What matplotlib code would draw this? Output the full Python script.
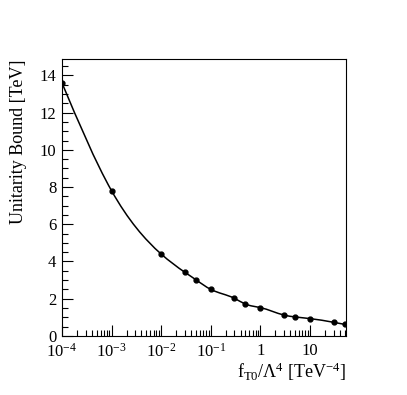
#! /usr/bin/env python3
import matplotlib
matplotlib.use("Agg")
import matplotlib.pyplot as plt
from matplotlib.path import Path
from matplotlib.patches import PathPatch
from matplotlib.ticker import FixedLocator, MultipleLocator, LogLocator, NullFormatter
import numpy as np

plt.rcParams["font.family"] = ["Liberation Serif", "DejaVu Serif"]
plt.rcParams["mathtext.fontset"] = "custom"
plt.rcParams["mathtext.rm"] = "Liberation Serif"
plt.rcParams["mathtext.it"] = "Liberation Serif:italic"

# coupling values f_T0/Lambda^4 [TeV^-4] and unitarity bound [TeV]
coupling = [1e-4, 1e-3, 1e-2, 0.03, 0.05, 0.1, 0.3, 0.5, 1, 3, 5, 10, 30, 50]
bound = [13.6, 7.8, 4.4, 3.42, 3.02, 2.5, 2.02, 1.71, 1.52, 1.12, 1.02, 0.93, 0.73, 0.62]

x_ticks = [1e-4, 1e-3, 1e-2, 1e-1, 1, 10]
x_ticklabels = [r"$10^{\mathrm{-4}}$", r"$10^{\mathrm{-3}}$", r"$10^{\mathrm{-2}}$",
                r"$10^{\mathrm{-1}}$", "1", "10"]

fig = plt.figure(figsize=(4.07, 3.95), dpi=100)
ax = fig.add_axes([0.1523, 0.1496, 0.6967, 0.7003])

ax.set_xscale("log")
ax.set_xlim(1e-4, 52)
ax.set_ylim(0, 14.87)

# smooth curve through the points: natural cubic spline in log-x,
# each segment handed to matplotlib as a cubic Bezier
lx = np.log10(coupling)
y = np.array(bound)
n = len(lx)
h = np.diff(lx)
A = np.zeros((n, n))
r = np.zeros(n)
A[0, 0] = A[-1, -1] = 1
for i in range(1, n - 1):
    A[i, i - 1] = h[i - 1]
    A[i, i] = 2 * (h[i - 1] + h[i])
    A[i, i + 1] = h[i]
    r[i] = 6 * ((y[i + 1] - y[i]) / h[i] - (y[i] - y[i - 1]) / h[i - 1])
M = np.linalg.solve(A, r)
d = np.empty(n)
d[:-1] = (y[1:] - y[:-1]) / h - h * (2 * M[:-1] + M[1:]) / 6
d[-1] = (y[-1] - y[-2]) / h[-1] + h[-1] * (M[-2] + 2 * M[-1]) / 6

verts = [(lx[0], y[0])]
codes = [Path.MOVETO]
for i in range(n - 1):
    c1 = (lx[i] + h[i] / 3, y[i] + d[i] * h[i] / 3)
    c2 = (lx[i + 1] - h[i] / 3, y[i + 1] - d[i + 1] * h[i] / 3)
    verts += [c1, c2, (lx[i + 1], y[i + 1])]
    codes += [Path.CURVE4] * 3
verts = [(10 ** vx, vy) for vx, vy in verts]
ax.add_patch(PathPatch(Path(verts, codes), fc="none", ec="black", lw=1.1))
ax.plot(coupling, bound, "o", color="black", ms=3.5)

ax.xaxis.set_major_locator(FixedLocator(x_ticks))
ax.set_xticklabels(x_ticklabels)
ax.xaxis.set_minor_locator(LogLocator(base=10, subs=np.arange(2, 10)))
ax.xaxis.set_minor_formatter(NullFormatter())
ax.yaxis.set_major_locator(MultipleLocator(2))
ax.yaxis.set_minor_locator(MultipleLocator(0.5))

ax.tick_params(which="both", direction="in", top=False, right=False,
               labelsize=12, width=0.8)
ax.tick_params(which="major", length=8, pad=4)
ax.tick_params(which="minor", length=4)
ax.tick_params(axis="x", pad=5)
for s in ax.spines.values():
    s.set_linewidth(0.8)

ax.set_ylabel("Unitarity Bound [TeV]", fontsize=13, loc="top")
ax.set_xlabel(r"f$_{\mathrm{T0}}$/$\Lambda^{4}$ [TeV$^{\mathrm{-4}}$]", fontsize=13, loc="right")
ax.yaxis.set_label_coords(-0.125, 1.0)
ax.xaxis.set_label_coords(1.0, -0.09)

fig.savefig("out.png", dpi=100)
